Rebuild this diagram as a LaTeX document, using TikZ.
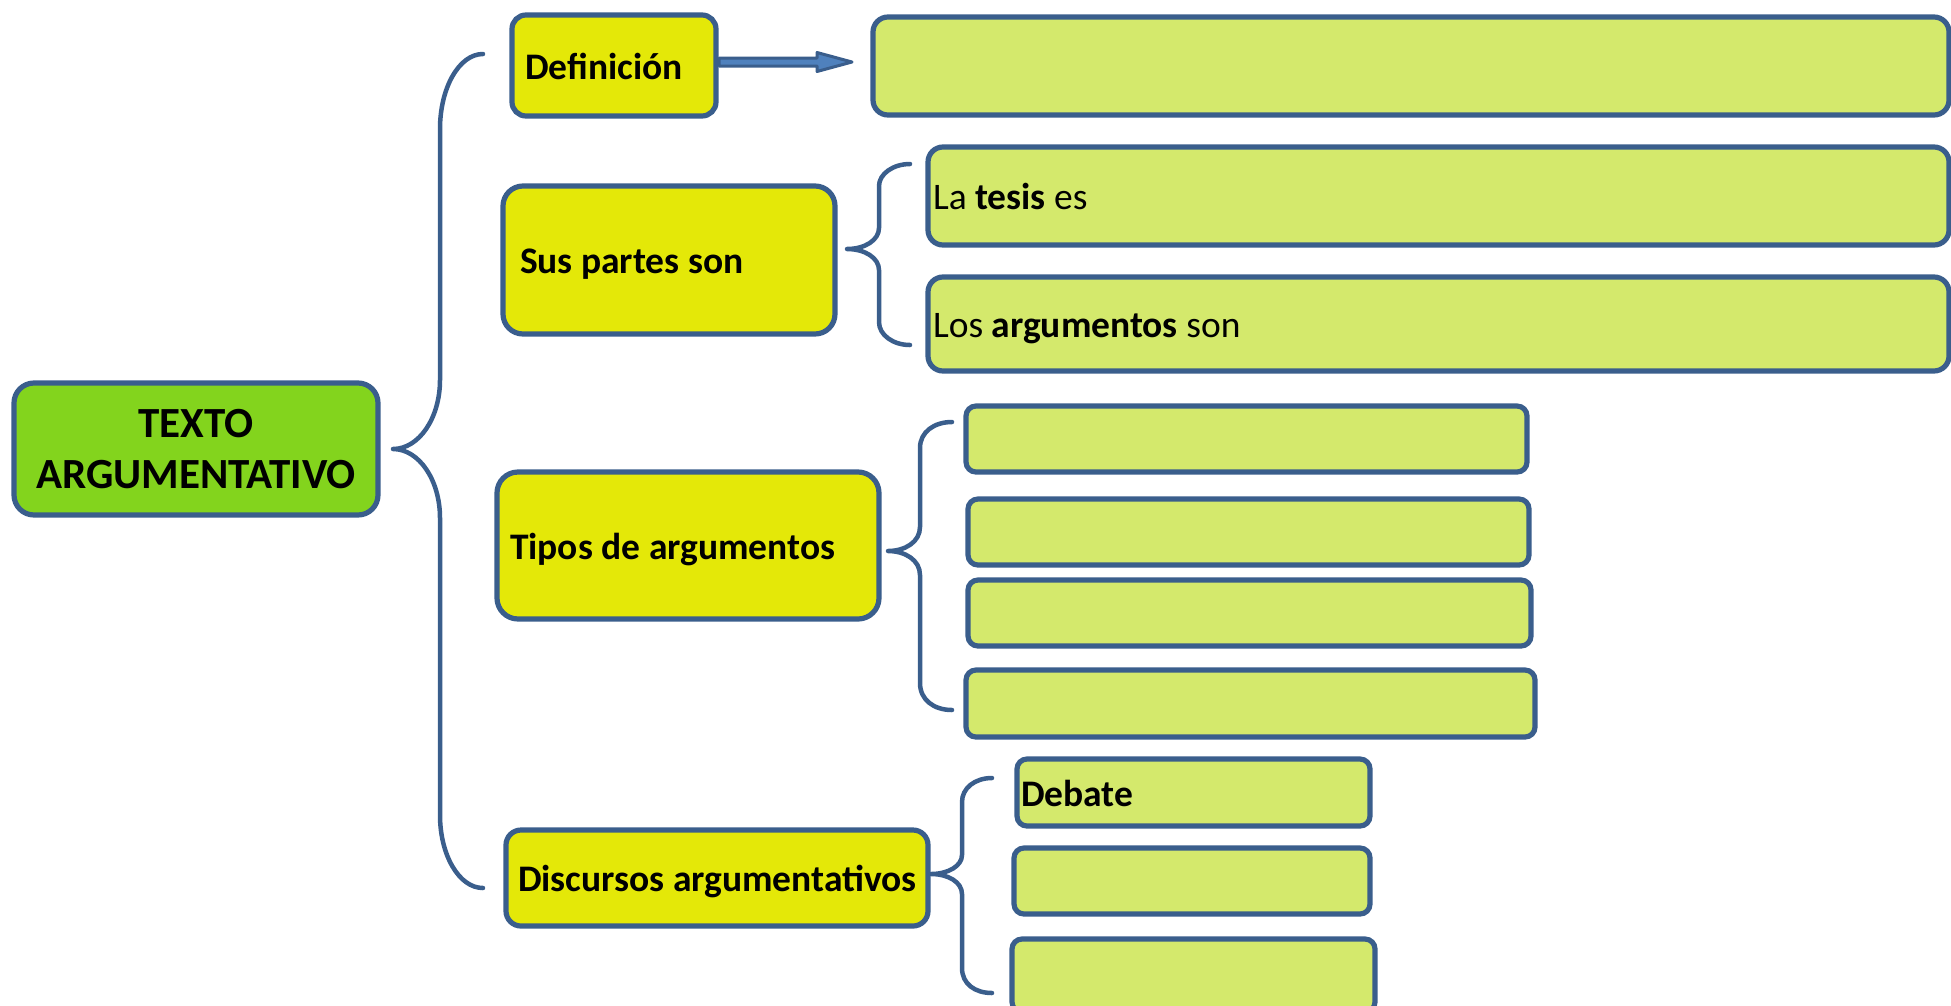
\documentclass[tikz,border=0pt]{standalone}
\usepackage{fontspec}
\setmainfont{Carlito}
\usetikzlibrary{calc}
\definecolor{bordc}{HTML}{3A5E8C}
\definecolor{yelc}{HTML}{E4E808}
\definecolor{litec}{HTML}{D4E96C}
\definecolor{greenc}{HTML}{83D41D}
\definecolor{arrowc}{HTML}{4F81BD}
\begin{document}
\begin{tikzpicture}[x=1pt,y=-1pt,
  bx/.style={draw=bordc, line width=5.2pt, inner sep=0pt, outer sep=0pt,
    font=\bfseries\fontsize{37.5}{44}\selectfont},
  lbl/.style={text height=27pt, text depth=0pt},
  yel/.style={bx, lbl, fill=yelc},
  lite/.style={bx, lbl, fill=litec},
  plain/.style={font=\fontsize{37.5}{44}\selectfont},
  brace/.style={draw=bordc, line width=4.5pt, line cap=round, line join=round},
  arrowst/.style={draw=bordc, fill=arrowc, line width=3pt, line join=round}]
\useasboundingbox (0,0) rectangle (1951,1005);

% main node
\node[bx, fill=greenc, minimum width=364pt, minimum height=132pt, rounded corners=20pt,
  align=center, font=\bfseries\fontsize{43}{51}\selectfont] (txt) at (196,449) {TEXTO\\ARGUMENTATIVO};

% first level
\node[yel, minimum width=204pt, minimum height=101pt, rounded corners=14pt] (def) at (614,65.5) {\makebox[178pt][l]{Definición}};
\node[yel, minimum width=332pt, minimum height=148pt, rounded corners=20pt] (sus) at (669,260) {\makebox[298pt][l]{Sus partes son}};
\node[yel, minimum width=382pt, minimum height=147pt, rounded corners=21pt] (tipos) at (688,545.5) {\makebox[356pt][l]{Tipos de argumentos}};
\node[yel, minimum width=422pt, minimum height=96pt, rounded corners=15pt] (disc) at (717,878) {\makebox[398pt][l]{Discursos argumentativos}};

% second level
\node[lite, minimum width=1076pt, minimum height=98pt, rounded corners=15pt] (dtop) at (1411,66) {};
\node[lite, plain, minimum width=1021pt, minimum height=98pt, rounded corners=15pt] (tesis) at (1438.5,196) {\makebox[1011pt][l]{La \textbf{tesis} es}};
\node[lite, plain, minimum width=1021pt, minimum height=94pt, rounded corners=15pt] (args) at (1438.5,324) {\makebox[1011pt][l]{Los \textbf{argumentos} son}};

\node[lite, minimum width=561pt, minimum height=66pt, rounded corners=10pt] (t1) at (1246.5,439) {};
\node[lite, minimum width=561pt, minimum height=66pt, rounded corners=10pt] (t2) at (1248.5,532) {};
\node[lite, minimum width=563pt, minimum height=66pt, rounded corners=10pt] (t3) at (1249.5,613) {};
\node[lite, minimum width=569pt, minimum height=67pt, rounded corners=10pt] (t4) at (1250.5,703.5) {};

\node[lite, minimum width=353pt, minimum height=67pt, rounded corners=10pt] (deb) at (1193.5,792.5) {\makebox[345pt][l]{Debate}};
\node[lite, minimum width=356pt, minimum height=66pt, rounded corners=10pt] (d2) at (1192,881) {};
\node[lite, minimum width=363pt, minimum height=73pt, rounded corners=10pt] (d3) at (1193.5,975.5) {};

% arrow Definicion -> box
\draw[arrowst] ($(def.east)+(3,-7.5)$) -- ++(98,0) -- ++(0,-5.5) -- ++(35,9.5)
  -- ++(-35,9.5) -- ++(0,-5.5) -- ++(-98,0) -- cycle;

% braces
\coordinate (c0) at ($(txt.east)+(15,0)$);
\coordinate (c0top) at (483,54);
\coordinate (c0bot) at (483,888);
\draw[brace] (c0top) .. controls (459,54) and (440,88) .. (440,129) -- (440,380)
  .. controls (440,418) and (419,449) .. (c0)
  .. controls (419,449) and (440,480) .. (440,518) -- (440,815)
  .. controls (440,855) and (459,888) .. (c0bot);

\coordinate (c1) at ($(sus.east)+(12,-11)$);
\coordinate (c1top) at (910,164);
\coordinate (c1bot) at (910,345);
\draw[brace] (c1top) .. controls (893,164) and (879,174) .. (879,186) -- (879,228)
  .. controls (879,240) and (865,249) .. (c1)
  .. controls (865,249) and (879,258) .. (879,270) -- (879,322)
  .. controls (879,335) and (893,345) .. (c1bot);

\coordinate (c2) at ($(tipos.east)+(9,5.5)$);
\coordinate (c2top) at (952,422);
\coordinate (c2bot) at (952,710);
\draw[brace] (c2top) .. controls (934,422) and (920,432) .. (920,448) -- (920,527)
  .. controls (920,542) and (905,551) .. (c2)
  .. controls (905,551) and (920,560) .. (920,575) -- (920,683)
  .. controls (920,700) and (934,710) .. (c2bot);

\coordinate (c3) at ($(disc.east)+(3,-4)$);
\coordinate (c3top) at (992,778);
\coordinate (c3bot) at (992,993);
\draw[brace] (c3top) .. controls (975,778) and (962,788) .. (962,802) -- (962,855)
  .. controls (962,866) and (948,874) .. (c3)
  .. controls (948,874) and (962,882) .. (962,894) -- (962,968)
  .. controls (962,984) and (975,993) .. (c3bot);
\end{tikzpicture}
\end{document}
